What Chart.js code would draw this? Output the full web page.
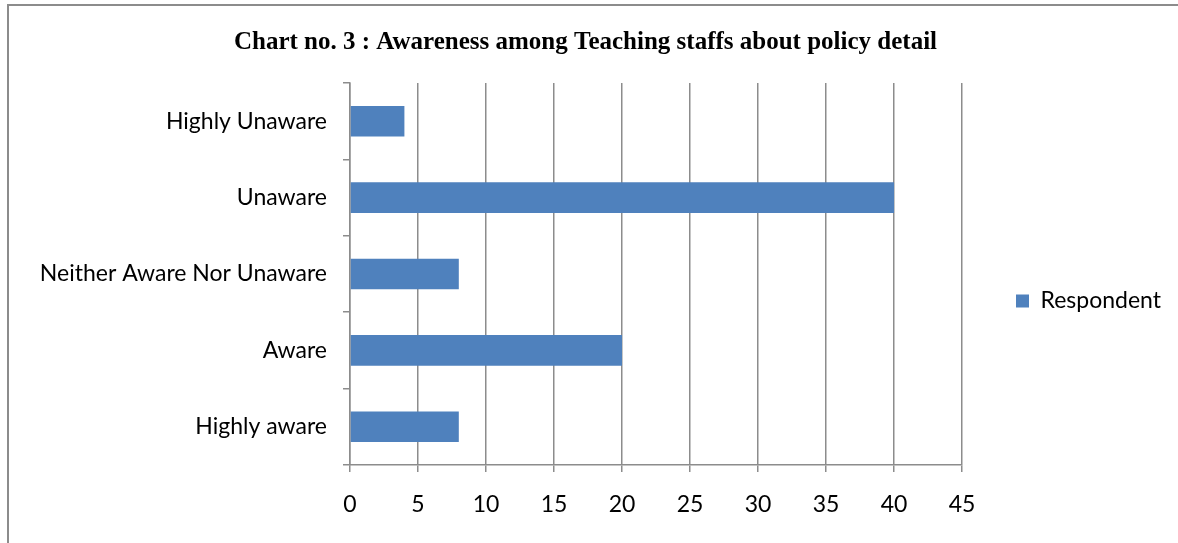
<!DOCTYPE html>
<html>
<head>
<meta charset="utf-8">
<script src="https://cdn.jsdelivr.net/npm/chart.js@4"></script>
<style>
  html, body { margin: 0; padding: 0; background: #fff; overflow: hidden; }
  #wrap { position: absolute; left: 0; top: 0; width: 1178px; height: 543px; }
  #frame { position: absolute; left: 7px; top: 4px; width: 1200px; height: 600px;
           border-left: 2px solid #8c8c8c; border-top: 2px solid #8c8c8c; pointer-events: none; }
</style>
</head>
<body>
<div id="wrap">
  <canvas id="awareness-chart" width="1178" height="543"></canvas>
  <div id="frame"></div>
</div>
<script>
// Survey responses: teaching staff awareness of the policy
const categories = ['Highly Unaware', 'Unaware', 'Neither Aware Nor Unaware', 'Aware', 'Highly aware'];
const respondents = [4, 40, 8, 20, 8];
const xTicks = [0, 5, 10, 15, 20, 25, 30, 35, 40, 45];

const labelFont = { family: 'Lato', size: 23 };
const gridGrey = '#8c8c8c';

const ctx = document.getElementById('awareness-chart').getContext('2d');
const awarenessChart = new Chart(ctx, {
    type: 'bar',
    data: {
        labels: categories,
        datasets: [{
            label: 'Respondent',
            data: respondents,
            backgroundColor: '#4f81bd',
            borderWidth: 0,
            categoryPercentage: 1,
            barPercentage: 0.4
        }]
    },
    options: {
        indexAxis: 'y',
        responsive: false,
        animation: false,
        layout: { padding: { left: 0, right: 7, top: 0, bottom: 0 } },
        scales: {
            x: {
                min: 0,
                max: 45,
                afterBuildTicks: scale => {
                    scale.ticks = xTicks.map(v => ({ value: v }));
                },
                afterFit: scale => { scale.height = 78; },
                grid: { color: gridGrey, tickColor: gridGrey, tickLength: 7, lineWidth: 1.5 },
                border: { display: true, color: gridGrey, width: 1.5 },
                ticks: { color: '#000', font: labelFont, padding: 19 }
            },
            y: {
                afterFit: scale => { scale.width = 350; },
                grid: { offset: true, color: 'transparent', tickColor: gridGrey, tickLength: 7, lineWidth: 1.5 },
                border: { display: true, color: gridGrey, width: 1.5 },
                ticks: { color: '#000', font: labelFont, padding: 16 }
            }
        },
        plugins: {
            title: {
                display: true,
                text: 'Chart no. 3 : Awareness among Teaching staffs about policy detail',
                color: '#000',
                font: { family: 'Liberation Serif', size: 25, weight: 'bold' },
                padding: { top: 28, bottom: 25 }
            },
            legend: {
                position: 'right',
                fullSize: false,
                title: { display: true, text: '', font: { size: 10 }, padding: { top: 0, bottom: 42 } },
                labels: {
                    color: '#000',
                    font: labelFont,
                    boxWidth: 13,
                    boxHeight: 13,
                    padding: 54
                }
            },
            tooltip: { enabled: false }
        }
    }
});
</script>
</body>
</html>
